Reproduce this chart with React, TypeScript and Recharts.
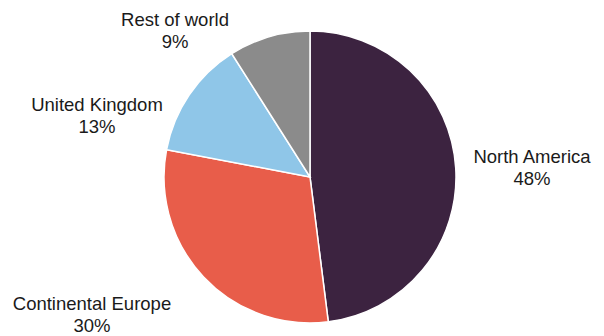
import React from "react";
import { PieChart, Pie, Cell } from "recharts";

const regions = ["North America", "Continental Europe", "United Kingdom", "Rest of world"];
const shares = [48, 30, 13, 9];
const colors = ["#3C2340", "#E85D4A", "#8FC6E8", "#8B8B8B"];

const data = regions.map((name, i) => ({ name, value: shares[i] }));

// label centre offsets relative to pie centre (layout only)
const LABEL_OFFSETS: [number, number][] = [
  [222, -10],
  [-218, 137],
  [-213, -62],
  [-135, -147],
];

const renderLabel = (props: any) => {
  const { cx, cy, index, name, value } = props;
  const [dx, dy] = LABEL_OFFSETS[index];
  const x = cx + dx;
  const y = cy + dy;
  return (
    <text
      x={x}
      y={y}
      textAnchor="middle"
      fontFamily="'Liberation Sans', Arial, sans-serif"
      fontSize={18.5}
      fill="#1a1a1a"
    >
      <tspan x={x} dy={-4}>{name}</tspan>
      <tspan x={x} dy={21.5}>{`${value}%`}</tspan>
    </text>
  );
};

export default function App() {
  return (
    <div style={{ position: "absolute", left: 0, top: 0, width: 604, height: 336, background: "#fff" }}>
      <PieChart width={604} height={336} margin={{ top: 0, right: 0, bottom: 0, left: 0 }}>
        <Pie
          data={data}
          dataKey="value"
          nameKey="name"
          cx={310}
          cy={177}
          outerRadius={146}
          startAngle={90}
          endAngle={-270}
          stroke="#ffffff"
          strokeWidth={1.5}
          label={renderLabel}
          labelLine={false}
          isAnimationActive={false}
        >
          {data.map((d, i) => (
            <Cell key={d.name} fill={colors[i]} />
          ))}
        </Pie>
      </PieChart>
    </div>
  );
}
